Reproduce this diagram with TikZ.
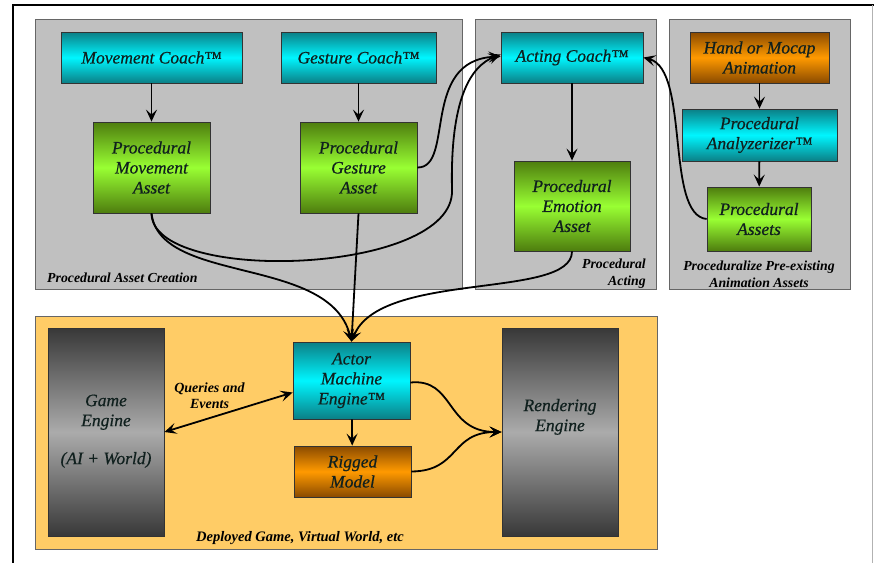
\documentclass[tikz,border=0pt]{standalone}
\usepackage{fontspec}
\setmainfont{Liberation Serif}
\newfontfamily\boxfont{Liberation Serif Italic}[FakeBold=0.6]
\usetikzlibrary{arrows.meta,positioning}
\definecolor{panelgray}{HTML}{C0C0C0}
\definecolor{deploy}{HTML}{FFCC66}
\definecolor{tealdark}{HTML}{0B7F86}
\definecolor{cyanlight}{HTML}{00F6FF}
\definecolor{greendark}{HTML}{4E7D0E}
\definecolor{greenlight}{HTML}{99FF33}
\definecolor{brown}{HTML}{8A4A00}
\definecolor{orangelight}{HTML}{FF9A00}
\definecolor{engdark}{HTML}{383838}
\definecolor{englight}{HTML}{ABABAB}
\definecolor{boxtext}{HTML}{10201E}
\tikzset{
  box/.style={draw=black!80,line width=0.8pt,inner sep=0pt,align=center,
    text=boxtext,font=\fontsize{17.5}{20}\boxfont},
  coach/.style={box,top color=tealdark,bottom color=tealdark,middle color=cyanlight},
  asset/.style={box,top color=greendark,bottom color=greendark,middle color=greenlight},
  orangebox/.style={box,top color=brown,bottom color=brown,middle color=orangelight},
  engine/.style={box,top color=engdark,bottom color=engdark,middle color=englight},
  panel/.style={draw=black!60,line width=0.8pt},
  panellabel/.style={font=\fontsize{13.8}{17}\selectfont\bfseries\itshape,inner sep=0pt},
  tip/.tip={Stealth[length=12pt,width=11pt,inset=5pt]},
  flow/.style={-tip,line width=1.8pt},
  flowboth/.style={tip-tip,line width=1.8pt}
}
\begin{document}
\begin{tikzpicture}[x=1pt,y=-1pt]
\useasboundingbox (0,0) rectangle (874,562);
% outer frame
\draw[line width=1.6pt] (13,570) -- (13,5) -- (874,5);
\draw[black!30,line width=0.8pt] (872,5) -- (872,570);
% panels
\draw[panel,fill=panelgray] (35,19) rectangle (462,289);
\draw[panel,fill=panelgray] (475,19) rectangle (656,289);
\draw[panel,fill=panelgray] (669,19) rectangle (850,289);
\draw[panel,fill=deploy] (35,316) rectangle (657,549);
%
\node (mc) [coach,minimum width=181,minimum height=51] at (151.5,57.5) {Movement Coach™};
\node (gc) [coach,minimum width=155,minimum height=51] at (358.5,57.5) {Gesture Coach™};
\node (pma) [asset,minimum width=117,minimum height=91] at (151.5,167.5) {Procedural\\Movement\\Asset};
\node (pga) [asset,minimum width=117,minimum height=91] at (358.5,167.5) {Procedural\\Gesture\\Asset};
\node (ac) [coach,minimum width=142,minimum height=51] at (572,57.5) {Acting Coach™};
\node (pea) [asset,minimum width=116,minimum height=90] at (572,206) {Procedural\\Emotion\\Asset};
\node (hm) [orangebox,minimum width=139,minimum height=51] at (759.5,57.5) {Hand or Mocap\\Animation};
\node (pan) [coach,minimum width=155,minimum height=52] at (759.5,135) {Procedural\\Analyzerizer™};
\node (pas) [asset,minimum width=104,minimum height=64] at (759,219) {Procedural\\Assets};
\node (ame) [coach,minimum width=117,minimum height=77] at (351.5,380.5) {Actor\\Machine\\Engine™};
\node (rig) [orangebox,minimum width=117,minimum height=51] at (352.5,471.5) {Rigged\\Model};
\node (ge) [engine,minimum width=116,minimum height=208] at (106,432) {~\\[-10pt]Game\\Engine\\[18pt](AI + World)};
\node (re) [engine,minimum width=116,minimum height=208] at (560,432) {Rendering\\Engine\\[14pt]~};
%
\node (lcreate) [panellabel,anchor=west] at (47,278) {Procedural Asset Creation};
\node (lacting) [panellabel,anchor=east,align=right] at (646,274) {Procedural\\Acting};
\node (lprep) [panellabel,align=center] at (759,274) {Proceduralize Pre-existing\\Animation Assets};
\node (ldeploy) [panellabel,font=\fontsize{14.5}{17}\selectfont\bfseries\itshape] at (300,538) {Deployed Game, Virtual World, etc};
%
\draw[flow] (mc) -- (pma);
\draw[flow] (gc) -- (pga);
\draw[flow] (ac) -- (pea);
\draw[flow] (hm) -- (pan);
\draw[flow] (pan) -- (pas);
\draw[flow] (ame) -- (rig);
\draw[flow] (pga.east) .. controls (455,168) and (420,60) .. ([yshift=1pt]ac.west);
\draw[flow] (pma.south) .. controls (152,285) and (455,275) .. (452,190)
  .. controls (450,100) and (470,66) .. ([yshift=3pt]ac.west);
\draw[flow] (pas.west) .. controls (665,215) and (690,70) .. (ac.east);
\draw[flow] (pma.south) .. controls (160,285) and (330,255) .. (ame.north);
\draw[flow] (pga.south) -- (ame.north);
\draw[flow] (pea.south) .. controls (572,300) and (380,270) .. (ame.north);
\draw[flowboth] (ge.east) -- node[midway,above=3pt,xshift=-19pt,font=\fontsize{14}{16}\selectfont\bfseries\itshape,align=center,inner sep=0pt] {Queries and\\Events} ([yshift=-12pt]ame.west);
\draw[flow] ([yshift=-2pt]ame.east) .. controls (455,378) and (445,432) .. (re.west);
\draw[flow] (rig.east) .. controls (460,471) and (450,432) .. (re.west);
\end{tikzpicture}
\end{document}
